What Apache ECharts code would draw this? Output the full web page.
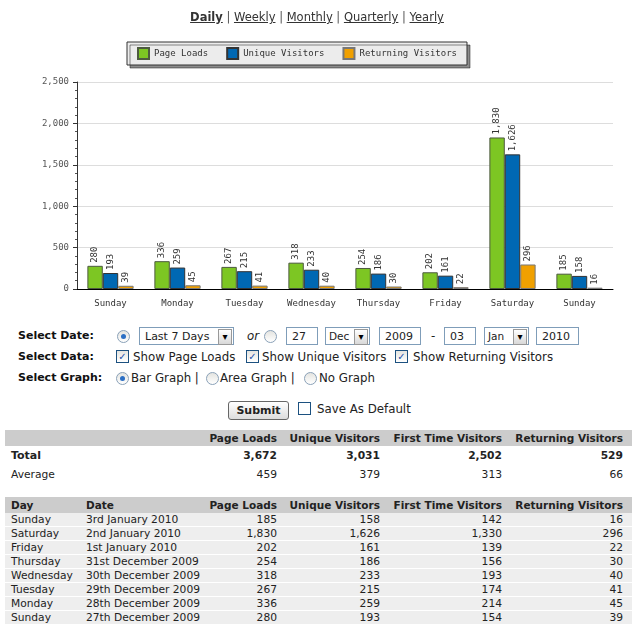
<!DOCTYPE html>
<html lang="en">
<head>
<meta charset="UTF-8">
<title>Visitor Stats</title>
<script src="https://cdn.jsdelivr.net/npm/echarts@6/dist/echarts.min.js"></script>
<style type="text/css">
    html,body{
        margin: 0;
        padding: 0;
        width: 640px;
        height: 628px;
        background: #fff;
        font-family: "DejaVu Sans", Verdana, sans-serif;
        color: #222;
        overflow: hidden;
    }
    #chart{
        position: absolute;
        left: 0;
        top: 0;
        width: 640px;
        height: 318px;
    }
    #nav{
        position: absolute;
        top: 10px;
        left: 0;
        width: 634px;
        text-align: center;
        font-size: 11.5px;
        color: #555;
    }
    #nav u{ color: #333; }
    #nav b{ color: #111; }
    .abs{ position: absolute; white-space: nowrap; }
    .lbl{ font-weight: bold; font-size: 11px; color: #111; }
    .txt{ font-size: 11.8px; color: #222; }
    .radio{
        position: absolute; width: 11px; height: 11px; border-radius: 50%;
        border: 1px solid #8aa1b8; background: linear-gradient(#e4e4e0,#fff);
    }
    .radio.on:after{
        content: ""; position: absolute; left: 3px; top: 3px; width: 5px; height: 5px;
        border-radius: 50%; background: #2c6fc4;
    }
    .check{
        position: absolute; width: 11px; height: 11px; border: 1px solid #1c5180;
        background: linear-gradient(#e4e4e0,#fff); font-size: 10px; line-height: 11px;
        text-align: center; color: #2250a8; font-weight: bold;
    }
    .box{
        position: absolute; height: 18px; border: 1px solid #7f9db9; background: #fff;
        font-size: 11px; line-height: 17px; padding-left: 5px; box-sizing: border-box;
    }
    .sel{ padding-left: 3px; font-size: 10.5px; }
    .sel:after{
        content: "\25BE"; position: absolute; right: 1px; top: 1px; width: 12px; height: 14px;
        border: 1px solid #999; background: linear-gradient(#fff,#d8d8d8); font-size: 10px;
        line-height: 13px; text-align: center; color: #000;
    }
    #submit{
        position: absolute; left: 228px; top: 401px; width: 59px; height: 17px;
        border: 1px solid #666; border-radius: 3px; background: linear-gradient(#fff,#dcdcdc);
        font-size: 11px; font-weight: bold; text-align: center; line-height: 17px;
    }
    table{
        position: absolute; left: 5px; width: 627px; border-collapse: collapse;
        table-layout: fixed; font-size: 10.7px;
    }
    th{ background: #cccccc; font-size: 10.5px; text-align: right; padding: 0 4px; height: 16px; white-space: nowrap; }
    td{ padding: 0 4px; text-align: right; white-space: nowrap; }
    th.l, td.l{ text-align: left; padding-left: 6px; }
    th.last, td.last{ padding-right: 9px; }
    #sum td{ height: 19px; }
    #sum tr.tot td{ font-weight: bold; }
    #rows td{ height: 13px; background: #eeeeee; border-bottom: 1px solid #fff; }
</style>
</head>
<body>
<div id="chart"></div>
<div id="nav"><b><u>Daily</u></b> | <u>Weekly</u> | <u>Monthly</u> | <u>Quarterly</u> | <u>Yearly</u></div>

<div id="form"></div>

<table id="sum" style="top:430px"></table>
<table id="rows" style="top:497px"></table>

<script>
    var categories = ['Sunday', 'Monday', 'Tuesday', 'Wednesday', 'Thursday', 'Friday', 'Saturday', 'Sunday'];
    var pageLoads = [280, 336, 267, 318, 254, 202, 1830, 185];
    var uniqueVisitors = [193, 259, 215, 233, 186, 161, 1626, 158];
    var returningVisitors = [39, 45, 41, 40, 30, 22, 296, 16];

    // table (newest first)
    var tableDays = ['Sunday', 'Saturday', 'Friday', 'Thursday', 'Wednesday', 'Tuesday', 'Monday', 'Sunday'];
    var tableDates = ['3rd January 2010', '2nd January 2010', '1st January 2010', '31st December 2009',
        '30th December 2009', '29th December 2009', '28th December 2009', '27th December 2009'];
    var tablePageLoads = [185, 1830, 202, 254, 318, 267, 336, 280];
    var tableUnique = [158, 1626, 161, 186, 233, 215, 259, 193];
    var tableFirstTime = [142, 1330, 139, 156, 193, 174, 214, 154];
    var tableReturning = [16, 296, 22, 30, 40, 41, 45, 39];
    var totals = [3672, 3031, 2502, 529];
    var averages = [459, 379, 313, 66];
    var colTitles = ['Page Loads', 'Unique Visitors', 'First Time Visitors', 'Returning Visitors'];

    function fmt(v){ return Number(v).toLocaleString('en-US'); }

    var mono = 'DejaVu Sans Mono';
    var myChart = echarts.init(document.getElementById('chart'));
    var labelOpt = {
        show: true,
        position: 'top',
        rotate: 90,
        align: 'left',
        verticalAlign: 'middle',
        distance: 3,
        fontFamily: mono,
        fontSize: 9,
        color: '#333',
        formatter: function(p){ return fmt(p.value); }
    };
    var options = {
        animation: false,
        textStyle: { fontFamily: mono },
        legend: {
            left: 127,
            top: 42,
            padding: [5, 10],
            itemGap: 18,
            itemWidth: 11,
            itemHeight: 11,
            icon: 'rect',
            backgroundColor: '#ececec',
            borderColor: '#333',
            borderWidth: 1,
            shadowColor: 'rgba(0,0,0,0.45)',
            shadowOffsetX: 3,
            shadowOffsetY: 3,
            shadowBlur: 0,
            textStyle: { fontFamily: mono, fontSize: 9, color: '#333' },
            data: ['Page Loads', 'Unique Visitors', 'Returning Visitors']
        },
        grid: { left: 77, right: 27, top: 82, bottom: 29 },
        xAxis: {
            type: 'category',
            data: categories,
            axisLine: { lineStyle: { color: '#000' } },
            axisTick: { inside: true, length: 4, lineStyle: { color: '#000' } },
            axisLabel: { fontFamily: mono, fontSize: 9, color: '#333', margin: 10 }
        },
        yAxis: {
            type: 'value',
            min: 0,
            max: 2500,
            interval: 500,
            axisLine: { show: true, lineStyle: { color: '#333' } },
            axisTick: { show: true, length: 4, lineStyle: { color: '#333' } },
            minorTick: { show: true, splitNumber: 5, length: 2, lineStyle: { color: '#555' } },
            splitLine: { lineStyle: { color: '#dddddd' } },
            axisLabel: { fontFamily: mono, fontSize: 9, color: '#555', margin: 8, formatter: fmt }
        },
        series: [{
            name: 'Page Loads',
            type: 'bar',
            barGap: '0%',
            barCategoryGap: '31%',
            itemStyle: { color: '#7dc623', borderColor: '#4d5a40', borderWidth: 1 },
            label: labelOpt,
            data: pageLoads
        }, {
            name: 'Unique Visitors',
            type: 'bar',
            itemStyle: { color: '#0068b3', borderColor: '#333', borderWidth: 1 },
            label: labelOpt,
            data: uniqueVisitors
        }, {
            name: 'Returning Visitors',
            type: 'bar',
            itemStyle: { color: '#f0a000', borderColor: '#777', borderWidth: 1 },
            label: labelOpt,
            data: returningVisitors
        }]
    };
    myChart.setOption(options);

    // form controls
    var f = '';
    f += '<span class="abs lbl" style="left:18px;top:329px">Select Date:</span>';
    f += '<span class="radio on" style="left:117px;top:330px"></span>';
    f += '<span class="box sel" style="left:139px;top:327px;width:95px;padding-left:5px;font-size:11px">Last 7 Days</span>';
    f += '<span class="abs txt" style="left:247px;top:329px;font-style:italic">or</span>';
    f += '<span class="radio" style="left:264px;top:330px"></span>';
    f += '<span class="box" style="left:286px;top:327px;width:32px">27</span>';
    f += '<span class="box sel" style="left:325px;top:327px;width:45px">Dec</span>';
    f += '<span class="box" style="left:379px;top:327px;width:42px">2009</span>';
    f += '<span class="abs txt" style="left:431px;top:329px">-</span>';
    f += '<span class="box" style="left:444px;top:327px;width:32px">03</span>';
    f += '<span class="box sel" style="left:484px;top:327px;width:45px">Jan</span>';
    f += '<span class="box" style="left:536px;top:327px;width:43px">2010</span>';

    f += '<span class="abs lbl" style="left:18px;top:350px">Select Data:</span>';
    f += '<span class="check" style="left:116px;top:350px">&#10003;</span>';
    f += '<span class="abs txt" style="left:133px;top:350px">Show Page Loads</span>';
    f += '<span class="check" style="left:246px;top:350px">&#10003;</span>';
    f += '<span class="abs txt" style="left:262px;top:350px">Show Unique Visitors</span>';
    f += '<span class="check" style="left:395px;top:350px">&#10003;</span>';
    f += '<span class="abs txt" style="left:413px;top:350px">Show Returning Visitors</span>';

    f += '<span class="abs lbl" style="left:18px;top:371px">Select Graph:</span>';
    f += '<span class="radio on" style="left:116px;top:372px"></span>';
    f += '<span class="abs txt" style="left:131px;top:371px">Bar Graph |</span>';
    f += '<span class="radio" style="left:206px;top:372px"></span>';
    f += '<span class="abs txt" style="left:220px;top:371px">Area Graph |</span>';
    f += '<span class="radio" style="left:304px;top:372px"></span>';
    f += '<span class="abs txt" style="left:319px;top:371px">No Graph</span>';

    f += '<span id="submit">Submit</span>';
    f += '<span class="check" style="left:298px;top:402px;background:#fff"></span>';
    f += '<span class="abs txt" style="left:317px;top:402px">Save As Default</span>';
    document.getElementById('form').innerHTML = f;

    var colWidths = '<colgroup><col style="width:75px"><col style="width:125px"><col style="width:76px">' +
        '<col style="width:103px"><col style="width:122px"><col style="width:126px"></colgroup>';

    // summary table
    var s = colWidths + '<tr><th class="l" colspan="2"></th>';
    for (var i = 0; i < colTitles.length; i++) s += '<th' + (i == 3 ? ' class="last"' : '') + '>' + colTitles[i] + '</th>';
    s += '</tr><tr class="tot"><td class="l" colspan="2" style="font-size:11px">Total</td>';
    for (i = 0; i < totals.length; i++) s += '<td' + (i == 3 ? ' class="last"' : '') + '>' + fmt(totals[i]) + '</td>';
    s += '</tr><tr><td class="l" colspan="2">Average</td>';
    for (i = 0; i < averages.length; i++) s += '<td' + (i == 3 ? ' class="last"' : '') + '>' + fmt(averages[i]) + '</td>';
    s += '</tr>';
    document.getElementById('sum').innerHTML = s;

    // daily table
    var r = colWidths + '<tr><th class="l">Day</th><th class="l">Date</th>';
    for (i = 0; i < colTitles.length; i++) r += '<th' + (i == 3 ? ' class="last"' : '') + '>' + colTitles[i] + '</th>';
    r += '</tr>';
    for (i = 0; i < tableDays.length; i++) {
        r += '<tr><td class="l">' + tableDays[i] + '</td><td class="l">' + tableDates[i] + '</td>' +
            '<td>' + fmt(tablePageLoads[i]) + '</td><td>' + fmt(tableUnique[i]) + '</td>' +
            '<td>' + fmt(tableFirstTime[i]) + '</td><td class="last">' + fmt(tableReturning[i]) + '</td></tr>';
    }
    document.getElementById('rows').innerHTML = r;
</script>
</body>
</html>
